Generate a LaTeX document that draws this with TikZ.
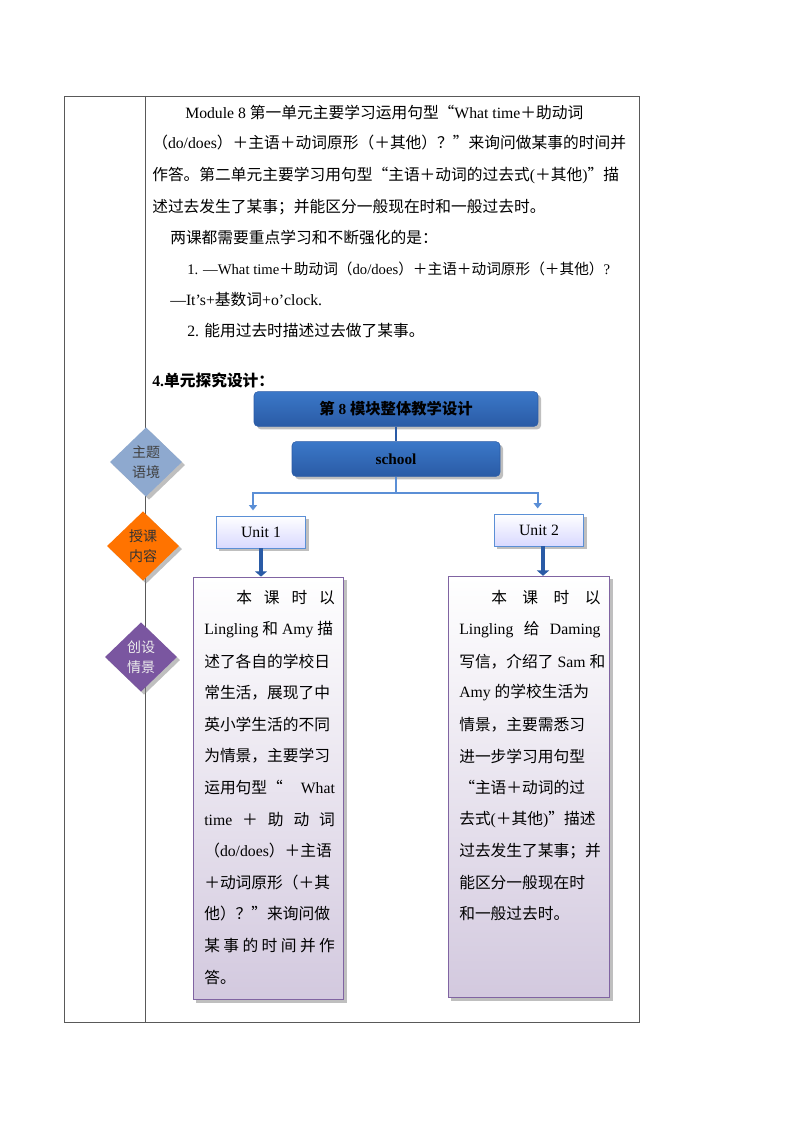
\documentclass[tikz,border=0pt]{standalone}
\usepackage{fontspec}
\setmainfont{Liberation Serif}
\newfontfamily\cjk{Noto Sans CJK SC}
\usetikzlibrary{arrows.meta,positioning,shapes.geometric,shadows}
% switch to the CJK font for Chinese characters
\XeTeXinterchartokenstate=1
\newXeTeXintercharclass\CJKcls
\newcommand\setcjkrange[2]{\count255=#1 \loop\XeTeXcharclass\count255=\CJKcls\advance\count255 1 \ifnum\count255<#2 \repeat}
\setcjkrange{"3000}{"3040}
\setcjkrange{"4E00}{"A000}
\setcjkrange{"FF00}{"FFF0}
\XeTeXcharclass"201C=\CJKcls
\XeTeXcharclass"201D=\CJKcls
\XeTeXinterchartoks 0 \CJKcls={\begingroup\cjk}
\XeTeXinterchartoks 4095 \CJKcls={\begingroup\cjk}
\XeTeXinterchartoks \CJKcls 0={\endgroup}
\XeTeXinterchartoks \CJKcls 4095={\endgroup}
\newcommand\spreadline[2]{\makebox[#1][s]{#2}}
\definecolor{hdrblue}{HTML}{3B78C8}
\definecolor{hdrdark}{HTML}{2A5BA6}
\definecolor{unitbord}{HTML}{5B8FD6}
\definecolor{boxpurple}{HTML}{8064A2}
\begin{document}
\begin{tikzpicture}[x={(0.75pt,0)},y={(0,-0.75pt)},font=\fontsize{11.8}{13}\selectfont,
  txt/.style={anchor=west,inner sep=0pt},
  header/.style={rectangle,rounded corners=3pt,draw=hdrdark,top color=hdrblue,bottom color=hdrdark,drop shadow,font=\fontsize{11.5}{13}\selectfont\bfseries,minimum height=26pt},
  unitbox/.style={rectangle,draw=unitbord,top color=white,bottom color=blue!15,drop shadow,minimum width=67pt,minimum height=24pt},
  story/.style={rectangle,draw=boxpurple,thick,top color=white,bottom color=boxpurple!35,drop shadow},
  topic/.style={diamond,minimum width=54pt,minimum height=52pt,inner sep=0pt,align=center,drop shadow,font=\fontsize{10.5}{15}\selectfont},
  link/.style={draw=unitbord,line width=1.5pt,-{Triangle[length=4pt,width=6pt]}},
  down/.style={draw=hdrdark,line width=3pt,-{Triangle[length=4pt,width=9pt]}}]
\useasboundingbox (0,0) rectangle (794,1123);
% table frame
\draw[gray!70!black] (64,96) rectangle (639,1022);
\draw[gray!70!black] (145,96) -- (145,1022);
% overview text
\node[txt] (p1) at (185,112) {Module 8 第一单元主要学习运用句型“What time＋助动词};
\node[txt] (p2) at (152,143) {（do/does）＋主语＋动词原形（＋其他）？”来询问做某事的时间并};
\node[txt] (p3) at (152,175) {作答。第二单元主要学习用句型“主语＋动词的过去式(＋其他)”描};
\node[txt] (p4) at (152,207) {述过去发生了某事；并能区分一般现在时和一般过去时。};
\node[txt] (p5) at (170,238) {两课都需要重点学习和不断强化的是：};
\node[txt,font=\fontsize{11}{13}\selectfont] (p6) at (187,269) {1. —What time＋助动词（do/does）＋主语＋动词原形（＋其他）?};
\node[txt] (p7) at (170,300) {—It’s+基数词+o’clock.};
\node[txt] (p8) at (187,331) {2. 能用过去时描述过去做了某事。};
\node[txt,font=\fontsize{11.8}{13}\selectfont\bfseries] (design) at (152,380) {4.单元探究设计：};
% diagram
\node[header,minimum width=213pt] (module) at (396,409) {第 8 模块整体教学设计};
\node[header,minimum width=156pt] (school) at (396,459) {school};
\node[unitbox] (unit1) at (261,532) {Unit 1};
\node[unitbox] (unit2) at (539,530) {Unit 2};
\draw[hdrdark,line width=1.5pt] (module) -- (school);
\coordinate (fork) at (396,493);
\draw[unitbord,line width=1.5pt] (school) -- (fork);
\draw[link] (fork) -| ([xshift=-6pt,yshift=4pt]unit1.north);
\draw[link] (fork) -| ([xshift=-1pt,yshift=4pt]unit2.north);
\node[story,minimum width=113pt,minimum height=317pt] (story1) at (268.5,788.5) {};
\node[story,minimum width=121pt,minimum height=316pt] (story2) at (529,787) {};
\draw[down] (unit1.south) -- (unit1.south |- story1.north);
\draw[down] ([xshift=3pt]unit2.south) -- ([xshift=3pt]unit2.south |- story2.north);
% story texts
\foreach \t [count=\i] in {{\hspace*{24pt}\spreadline{74pt}{本\hfill 课\hfill 时\hfill 以}},{Lingling 和 Amy 描},述了各自的学校日,常生活，展现了中,英小学生活的不同,为情景，主要学习,{\spreadline{98pt}{运用句型“\hfill What}},{\spreadline{98pt}{time\hfill＋\hfill 助\hfill 动\hfill 词}},（do/does）＋主语,＋动词原形（＋其,他）？”来询问做,{\spreadline{98pt}{某\hfill 事\hfill 的\hfill 时\hfill 间\hfill 并\hfill 作}},答。}
  \node[txt] (s1l\i) at (204,{598+31.6*(\i-1)}) {\t};
\foreach \t [count=\i] in {{\hspace*{24pt}\spreadline{82pt}{本\hfill 课\hfill 时\hfill 以}},{\spreadline{106pt}{Lingling\hfill 给\hfill Daming}},写信，介绍了 Sam 和,Amy 的学校生活为,情景，主要需悉习,进一步学习用句型,“主语＋动词的过,去式(＋其他)”描述,过去发生了某事；并,能区分一般现在时,和一般过去时。}
  \node[txt] (s2l\i) at (459,{598+31.6*(\i-1)}) {\t};
% topic diamonds
\node[topic,fill={rgb,255:red,142;green,169;blue,207},text=black!75] (theme) at (146,462) {主题\\语境};
\node[topic,fill=orange!90!red,text=black!80] (content) at (143,546) {授课\\内容};
\node[topic,fill={rgb,255:red,122;green,86;blue,160},text=white!85!gray] (scene) at (141,657) {创设\\情景};
\end{tikzpicture}
\end{document}
